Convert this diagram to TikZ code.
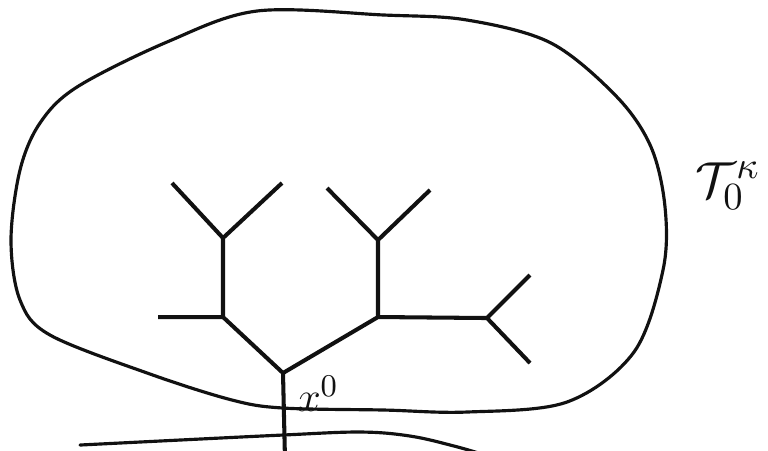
\documentclass[tikz,border=0pt]{standalone}
\usetikzlibrary{calc}

\begin{document}
\begin{tikzpicture}[x=0.01cm, y=-0.01cm, line join=round, line cap=round]
    % Define line widths
    \def\treeWidth{1.15pt}
    \def\curveWidth{0.9pt}

    \definecolor{inkColour}{HTML}{111111}

    % Fix the picture size
    \useasboundingbox (0,0) rectangle (768,450);
    \clip (0,0) rectangle (768,450);

    % Draw the outer region
    \draw[draw=inkColour, line width=\curveWidth] plot[smooth cycle, tension=0.55] coordinates {
        (384,15) (467,20) (551,43) (617,97) (651,147) (665,207) (663,270)
        (634,352) (567,402) (467,412) (384,410) (283,408) (232,400)
        (150,374) (50,335) (20,300) (11,240) (20,170) (40,123) (77,87)
        (167,42) (257,11)};

    % Draw the lower boundary line
    \draw[draw=inkColour, line width=\curveWidth] plot[smooth, tension=0.6] coordinates {
        (80,445) (180,440) (283,435) (360,432) (410,436) (454,446) (485,455)};

    % Define the vertices of the tree
    \coordinate (root) at (283,373);
    \coordinate (stem) at (285,460);
    \coordinate (A) at (223,317);
    \coordinate (A1) at (158,317);
    \coordinate (B) at (223,238);
    \coordinate (B1) at (172,183);
    \coordinate (B2) at (282,183);
    \coordinate (C) at (378,317);
    \coordinate (D) at (378,240);
    \coordinate (D1) at (327,188);
    \coordinate (D2) at (430,190);
    \coordinate (E) at (487,318);
    \coordinate (E1) at (530,275);
    \coordinate (E2) at (530,363);

    % Draw the tree
    \draw[draw=inkColour, line width=\treeWidth, line cap=butt]
        (stem) -- (root) -- (A) -- (A1)
        (A) -- (B) -- (B1)
        (B) -- (B2)
        (root) -- (C) -- (D) -- (D1)
        (D) -- (D2)
        (C) -- (E) -- (E1)
        (E) -- (E2);

    % Label the root and the region
    \node[inkColour, font=\fontsize{13}{15}\selectfont] (rootLabel) at (318,394) {$x^0$};
    \node[inkColour, font=\fontsize{15}{18}\selectfont] (regionLabel) at (728,186) {$\mathcal{T}_0^{\kappa}$};

\end{tikzpicture}
\end{document}
